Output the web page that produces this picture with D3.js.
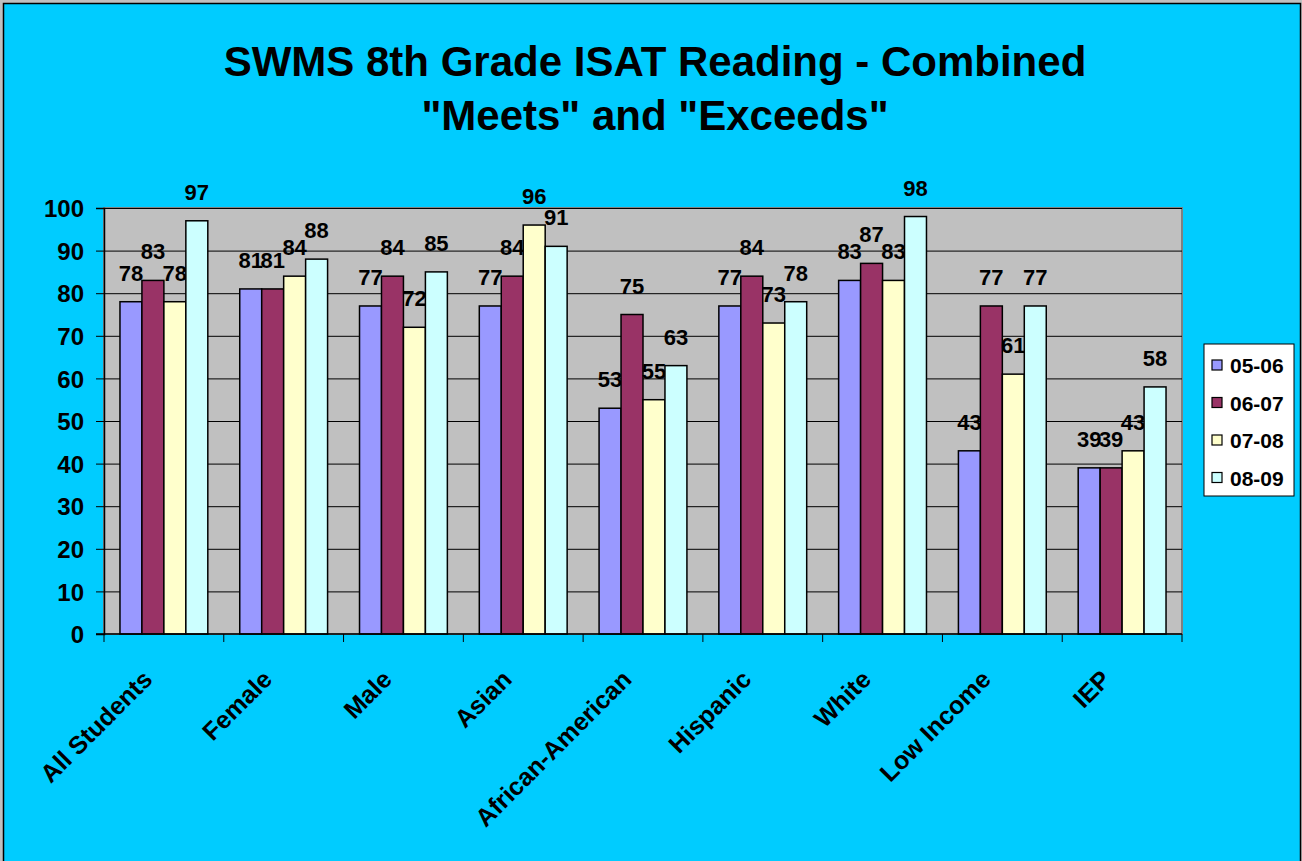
<!DOCTYPE html>
<html>
<head>
<meta charset="utf-8">
<script src="https://cdn.jsdelivr.net/npm/d3@7.9.0/dist/d3.min.js"></script>
<style>
  body { margin: 0; background: #c0c0c0; }
  svg { display: block; font-family: Arial, "Liberation Sans", sans-serif; }
</style>
</head>
<body>
<svg id="chart" width="1302" height="861"></svg>
<script>
// data
const categories = ['All Students', 'Female', 'Male', 'Asian', 'African-American', 'Hispanic', 'White', 'Low Income', 'IEP'];
const years = ['05-06', '06-07', '07-08', '08-09'];
const y0506 = [78, 81, 77, 77, 53, 77, 83, 43, 39];
const y0607 = [83, 81, 84, 84, 75, 84, 87, 77, 39];
const y0708 = [78, 84, 72, 96, 55, 73, 83, 61, 43];
const y0809 = [97, 88, 85, 91, 63, 78, 98, 77, 58];
const yTicks = [0, 10, 20, 30, 40, 50, 60, 70, 80, 90, 100];
const titleLines = ['SWMS 8th Grade ISAT Reading - Combined', '"Meets" and "Exceeds"'];

const seriesValues = [y0506, y0607, y0708, y0809];
const colors = ['#9999ff', '#993366', '#ffffcc', '#ccffff'];

const svg = d3.select('#chart');

// background + frame
svg.append('rect').attr('x', 3.5).attr('y', 3.5).attr('width', 1297).attr('height', 870)
  .attr('fill', '#00ccff').attr('stroke', '#000').attr('stroke-width', 1.5);

// title
svg.append('g').selectAll('text').data(titleLines).join('text')
  .attr('x', 655).attr('y', (d, i) => 76 + i * 54)
  .attr('text-anchor', 'middle')
  .attr('font-size', 42).attr('font-weight', 'bold')
  .text(d => d);

const plot = { left: 104, right: 1182, top: 208, bottom: 634 };

const x = d3.scaleBand().domain(categories)
  .range([plot.left, plot.right]).paddingInner(32 / 120).paddingOuter(16 / 120);
const xSub = d3.scaleBand().domain(years).range([0, x.bandwidth()]);
const y = d3.scaleLinear().domain([0, 100]).range([plot.bottom, plot.top]);

// plot area
svg.append('rect').attr('x', plot.left).attr('y', plot.top)
  .attr('width', plot.right - plot.left).attr('height', plot.bottom - plot.top)
  .attr('fill', '#c0c0c0').attr('stroke', '#808080').attr('stroke-width', 2);

// grid lines
svg.append('g').selectAll('line').data(yTicks.slice(1)).join('line')
  .attr('x1', plot.left).attr('x2', plot.right)
  .attr('y1', d => y(d) + 0.5).attr('y2', d => y(d) + 0.5)
  .attr('stroke', '#000').attr('stroke-width', 1);

// y axis
const yAxis = svg.append('g').attr('transform', `translate(${plot.left},0)`)
  .call(d3.axisLeft(y).tickValues(yTicks).tickSize(8).tickPadding(12));
yAxis.select('.domain').attr('stroke', '#000').attr('stroke-width', 1.5);
yAxis.selectAll('.tick line').attr('stroke', '#000');
yAxis.selectAll('text').attr('font-size', 24).attr('font-weight', 'bold')
  .attr('font-family', 'Arial, "Liberation Sans", sans-serif').attr('fill', '#000')
  .attr('dy', '0.36em');

// bars
const groups = svg.append('g').selectAll('g').data(categories).join('g')
  .attr('transform', d => `translate(${x(d)},0)`);

groups.each(function (cat, ci) {
  const g = d3.select(this);
  years.forEach((yr, si) => {
    const v = seriesValues[si][ci];
    g.append('rect')
      .attr('x', xSub(yr)).attr('y', y(v))
      .attr('width', xSub.bandwidth()).attr('height', y(0) - y(v))
      .attr('fill', colors[si]).attr('stroke', '#000').attr('stroke-width', 1.5);
    g.append('text')
      .attr('x', xSub(yr) + xSub.bandwidth() / 2).attr('y', y(v) - 21)
      .attr('text-anchor', 'middle')
      .attr('font-size', 22).attr('font-weight', 'bold')
      .text(v);
  });
});

// x axis
const xAxisG = svg.append('g');
xAxisG.append('line').attr('x1', plot.left - 8).attr('x2', plot.right)
  .attr('y1', plot.bottom).attr('y2', plot.bottom)
  .attr('stroke', '#000').attr('stroke-width', 1.5);
const boundaries = categories.map(c => x(c) - x.step() * x.paddingInner() / 2).concat([plot.right]);
xAxisG.selectAll('.xt').data(boundaries).join('line')
  .attr('x1', d => d).attr('x2', d => d)
  .attr('y1', plot.bottom).attr('y2', plot.bottom + 8)
  .attr('stroke', '#000');
xAxisG.selectAll('text').data(categories).join('text')
  .attr('transform', d => `translate(${x(d) + x.bandwidth() / 2 - 10},681) rotate(-45)`)
  .attr('text-anchor', 'end')
  .attr('font-size', 25).attr('font-weight', 'bold')
  .text(d => d);

// legend
const legend = svg.append('g').attr('transform', 'translate(1204,344)');
legend.append('rect').attr('width', 90).attr('height', 152)
  .attr('fill', '#fff').attr('stroke', '#000').attr('stroke-width', 1);
const items = legend.selectAll('g').data(years).join('g')
  .attr('transform', (d, i) => `translate(0,${21 + i * 37.5})`);
items.append('rect').attr('x', 8).attr('y', -5).attr('width', 10).attr('height', 10)
  .attr('fill', (d, i) => colors[i]).attr('stroke', '#000').attr('stroke-width', 1.2);
items.append('text').attr('x', 26).attr('y', 8)
  .attr('font-size', 21).attr('font-weight', 'bold')
  .text(d => d);
</script>
</body>
</html>
